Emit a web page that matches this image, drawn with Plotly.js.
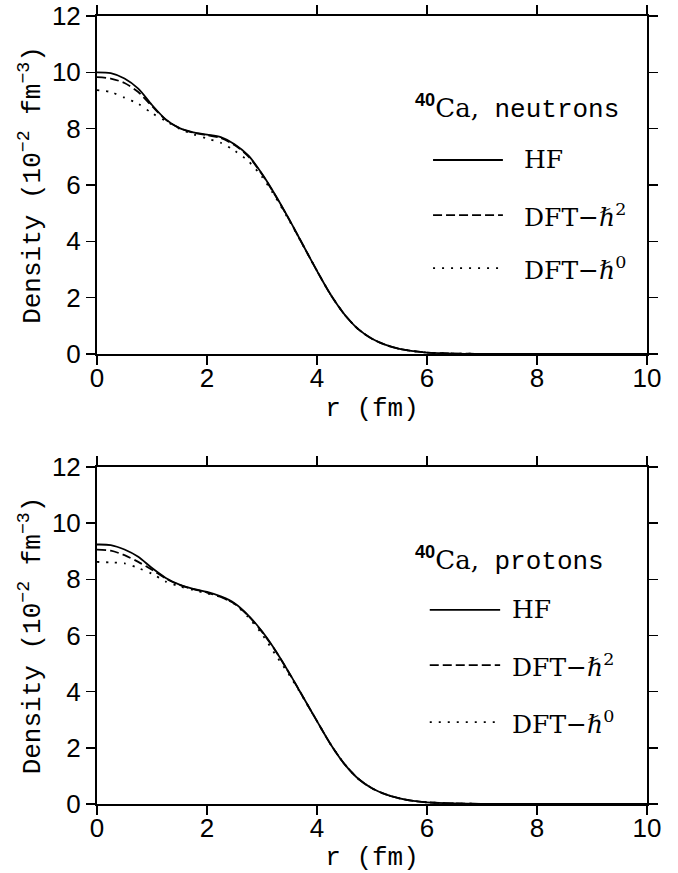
<!DOCTYPE html>
<html>
<head>
<meta charset="utf-8">
<script src="https://cdn.plot.ly/plotly-3.0.1.min.js"></script>
<style>html,body{margin:0;padding:0;background:#fff;}#chart{width:678px;height:873px;}</style>
</head>
<body>
<div id="chart"></div>
<script>
// radius grid (fm)
const r = [0,0.25,0.5,0.75,1,1.25,1.5,1.75,2,2.25,2.5,2.75,3,3.25,3.5,3.75,4,4.25,4.5,4.75,5,5.25,5.5,5.75,6,6.5,7,8,9,10];

// 40Ca neutrons (10^-2 fm^-3)
const nHF   = [10.0,9.97,9.78,9.42,8.84,8.33,8.02,7.87,7.79,7.70,7.45,7.05,6.40,5.62,4.76,3.85,2.95,2.10,1.40,0.88,0.54,0.32,0.18,0.10,0.05,0.015,0.004,0,0,0];
const nDFT2 = [9.83,9.78,9.62,9.30,8.80,8.32,8.02,7.86,7.77,7.67,7.42,7.02,6.38,5.60,4.75,3.85,2.95,2.10,1.40,0.88,0.54,0.32,0.18,0.10,0.05,0.015,0.004,0,0,0];
const nDFT0 = [9.37,9.30,9.10,8.88,8.55,8.27,8.00,7.80,7.65,7.50,7.22,6.85,6.29,5.55,4.72,3.84,2.95,2.10,1.40,0.88,0.54,0.32,0.18,0.10,0.05,0.015,0.004,0,0,0];

// 40Ca protons (10^-2 fm^-3)
const pHF   = [9.24,9.22,9.06,8.80,8.40,8.05,7.81,7.66,7.55,7.39,7.15,6.72,6.15,5.45,4.65,3.80,2.95,2.12,1.42,0.90,0.56,0.34,0.20,0.11,0.06,0.02,0.005,0,0,0];
const pDFT2 = [9.06,9.02,8.86,8.62,8.34,8.03,7.80,7.65,7.53,7.37,7.13,6.70,6.13,5.44,4.64,3.80,2.95,2.12,1.42,0.90,0.56,0.34,0.20,0.11,0.06,0.02,0.005,0,0,0];
const pDFT0 = [8.62,8.60,8.57,8.40,8.20,7.92,7.75,7.62,7.50,7.37,7.12,6.65,6.05,5.30,4.58,3.78,2.95,2.12,1.42,0.90,0.56,0.34,0.20,0.11,0.06,0.02,0.005,0,0,0];

const xTicks = [0,2,4,6,8,10];
const yTicks = [0,2,4,6,8,10,12];
const legendNames = ['HF','DFT−<i>ℏ</i><sup>2</sup>','DFT−<i>ℏ</i><sup>0</sup>'];
const panelLabels = ['neutrons','protons'];

const dashes = ['solid','9px,4px','2px,7px'];
const lw = 1.8;
function tr(y, xa, ya, i){
  return {x:r, y:y, xaxis:xa, yaxis:ya, mode:'lines', line:{color:'#000', width:lw, dash:dashes[i], shape:'spline', smoothing:0.8}, showlegend:false, hoverinfo:'skip'};
}
const data = [
  tr(nHF,'x','y',0), tr(nDFT2,'x','y',1), tr(nDFT0,'x','y',2),
  tr(pHF,'x2','y2',0), tr(pDFT2,'x2','y2',1), tr(pDFT0,'x2','y2',2)
];

const tickFont = {family:'Liberation Sans, Arial, sans-serif', size:26, color:'#000'};
const titleFont = {family:'Liberation Mono, Courier New, monospace', size:26, color:'#000'};
function xax(anchor){
  return {anchor:anchor, domain:[0,1], range:[0,10], tickvals:xTicks, ticktext:xTicks.map(String),
    showline:true, linewidth:2, linecolor:'#000', mirror:'ticks', ticks:'outside', ticklen:9, tickwidth:1.5, tickcolor:'#000',
    showgrid:false, zeroline:false, tickfont:tickFont, ticklabelstandoff:-9,
    title:{text:'r (fm)', font:titleFont, standoff:6}};
}
function yax(anchor, dom){
  return {anchor:anchor, domain:dom, range:[0,12], tickvals:yTicks, ticktext:yTicks.map(String),
    showline:true, linewidth:2, linecolor:'#000', mirror:'ticks', ticks:'outside', ticklen:9, tickwidth:1.5, tickcolor:'#000',
    showgrid:false, zeroline:false, tickfont:tickFont,
    title:{text:'Density (10<sup>−2</sup> fm<sup>−3</sup>)', font:titleFont, standoff:4}};
}

const serif = 'DejaVu Serif, serif';
const shapes = [];
const annotations = [];
const panels = [
  {xr:'x domain', yr:'y domain', label:panelLabels[0], lx0:0.611, lx1:0.738, tx:0.773, hy:0.728, ys:[0.574,0.411,0.254]},
  {xr:'x2 domain', yr:'y2 domain', label:panelLabels[1], lx0:0.605, lx1:0.733, tx:0.751, hy:0.724, ys:[0.576,0.412,0.243]}
];
panels.forEach(p=>{
  annotations.push({xref:p.xr, yref:p.yr, x:0.574, y:p.hy, xanchor:'left', yanchor:'middle', showarrow:false,
    text:'<sup><span style="font-family:Liberation Sans;font-weight:bold">40</span></sup><span style="font-family:DejaVu Serif">Ca,</span> '+p.label,
    font:{family:'Liberation Mono, monospace', size:26, color:'#000'}});
  for(let i=0;i<3;i++){
    shapes.push({type:'line', xref:p.xr, yref:p.yr, x0:p.lx0, x1:p.lx1, y0:p.ys[i], y1:p.ys[i], line:{color:'#000', width:lw, dash:dashes[i]}});
    annotations.push({xref:p.xr, yref:p.yr, x:p.tx, y:p.ys[i], xanchor:'left', yanchor:'middle', showarrow:false,
      text:legendNames[i], font:{family:serif, size:25, color:'#000'}});
  }
});

const layout = {
  width:678, height:873,
  margin:{l:97, r:31, t:16, b:69},
  paper_bgcolor:'#fff', plot_bgcolor:'#fff',
  xaxis: xax('y'), yaxis: yax('x',[0.5711,1]),
  xaxis2: xax('y2'), yaxis2: yax('x2',[0,0.4277]),
  shapes:shapes, annotations:annotations, showlegend:false
};
Plotly.newPlot('chart', data, layout, {staticPlot:true, displayModeBar:false});
</script>
</body>
</html>
